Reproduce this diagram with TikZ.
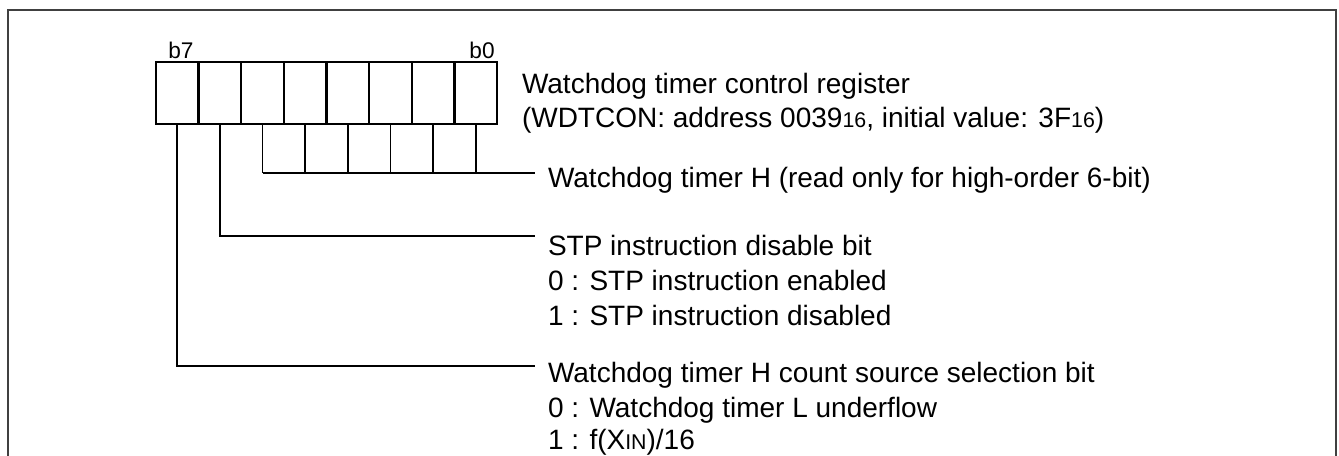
\documentclass[tikz,border=0pt]{standalone}
\usepackage{fontspec}
\setmainfont{Liberation Sans}
\newcommand{\subsz}[1]{{\fontsize{16}{16}\selectfont #1}}
\begin{document}
\begin{tikzpicture}[x=0.75pt,y=-0.75pt,
  txt/.style={anchor=base west,inner sep=0pt,outer sep=0pt,font=\fontsize{21}{26}\selectfont},
  blab/.style={anchor=base,inner sep=0pt,font=\fontsize{17}{17}\selectfont},
  cell/.style={draw,line width=1.8pt,minimum width=31.97pt,minimum height=46.5pt,inner sep=0pt,outer sep=0pt},
  conn/.style={line width=1.25pt},
  frame/.style={draw=black!75,line width=1.8pt}]
\useasboundingbox (0,0) rectangle (1339,455);
\clip (0,0) rectangle (1339,455);
% outer frame (bottom edge outside the picture)
\draw[frame] (8,470) -- (8,10) -- (1336,10) -- (1336,470);
% register cells
\foreach \b [count=\i from 0] in {7,6,5,4,3,2,1,0}
  \node[cell] (c\b) at ({156+42.625*(\i+0.5)},93) {};
\node[blab] (lb7) at (181,58) {b7};
\node[blab] (lb0) at (482,58) {b0};
% register title
\node[txt] (t1) at (522,93) {Watchdog timer control register};
\node[txt] (t2) at (522,127) {(WDTCON: address 0039\subsz{16}, initial value: 3F\subsz{16})};
% watchdog timer H (b5..b0)
\coordinate (hend) at (535,173);
\foreach \b in {5,4,3,2,1,0}
  \draw[conn] (c\b.south) -- (c\b.south |- hend);
\draw[conn] (c5.south |- hend) -- (hend);
\node[txt] (th) at (548,187) {Watchdog timer H (read only for high-order 6-bit)};
% b6 STP
\coordinate (s6) at (535,236);
\draw[conn] (c6.south) |- (s6);
\node[txt] (stp1) at (548,255) {STP instruction disable bit};
\node[txt] (stp2) at (548,290) {0 : STP instruction enabled};
\node[txt] (stp3) at (548,325) {1 : STP instruction disabled};
% b7 count source
\coordinate (s7) at (535,366);
\draw[conn] (c7.south) |- (s7);
\node[txt] (cs1) at (548,382) {Watchdog timer H count source selection bit};
\node[txt] (cs2) at (548,417) {0 : Watchdog timer L underflow};
\node[txt] (cs3) at (548,449) {1 : f(X\subsz{IN})/16};
\end{tikzpicture}
\end{document}
